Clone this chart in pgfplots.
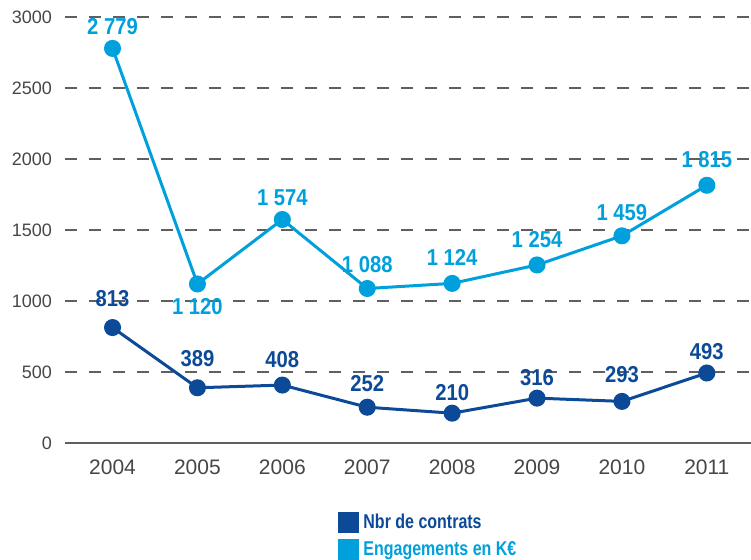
\documentclass[border=0pt]{standalone}
\usepackage{pgfplots}
\pgfplotsset{compat=1.18}
\usepackage{fontspec}
\setmainfont{Liberation Sans}
\newfontfamily\cond[FakeStretch=0.88]{Liberation Sans}
\newfontfamily\condl[FakeStretch=0.8]{Liberation Sans}
\definecolor{lblue}{RGB}{0,160,220}
\definecolor{dblue}{RGB}{12,74,152}
\definecolor{gridg}{RGB}{95,95,95}
\definecolor{tickg}{RGB}{70,70,70}
\begin{document}
\begin{tikzpicture}
\useasboundingbox (-32.5pt,-58pt) rectangle (343pt,221.5pt);
\begin{axis}[
  at={(0,0)}, anchor=south west,
  scale only axis, width=343pt, height=213pt,
  xmin=2003.44, xmax=2011.52, ymin=0, ymax=3000,
  axis x line=bottom, axis y line=left,
  x axis line style={gridg, line width=1pt, -},
  y axis line style={draw=none},
  major tick length=0pt,
  xtick={2004,2005,...,2011},
  ytick={0,500,...,3000},
  ymajorgrids,
  grid style={gridg, line width=0.6pt, dash pattern=on 6pt off 6pt},
  /pgf/number format/assume math mode=true,
  /pgf/number format/1000 sep={},
  x tick label style={font=\fontsize{10.5}{12}\selectfont, text=tickg, yshift=-5pt},
  y tick label style={font=\fontsize{9}{11}\selectfont, text=tickg, xshift=-3pt},
  clip=false,
  legend style={at={(0.398,-0.156)}, anchor=north west, draw=none, fill=none,
    inner sep=0pt, font=\condl\bfseries\fontsize{10}{11}\selectfont, row sep=1pt,
    cells={anchor=west}},
  legend image code/.code={\fill (0pt,-4.5pt) rectangle (9pt,4.5pt);},
]
\addplot[dblue, line width=1.5pt, mark=*, mark size=3.5pt,
  nodes near coords, point meta=explicit symbolic,
  every node near coord/.append style={font=\cond\bfseries\fontsize{11.5}{13}\selectfont, text=dblue, anchor=south, yshift=3.7pt},
  coordinate style/.condition={\coordindex==0}{yshift=2.5pt},
  coordinate style/.condition={\coordindex==1}{yshift=2.5pt},
  coordinate style/.condition={\coordindex==2}{yshift=1pt},
  coordinate style/.condition={\coordindex==4}{yshift=-1.5pt},
  coordinate style/.condition={\coordindex==5}{yshift=-1.5pt},
  coordinate style/.condition={\coordindex==6}{yshift=1.5pt},
  coordinate style/.condition={\coordindex==7}{yshift=-1pt}]
  coordinates {(2004,813)[813] (2005,389)[389] (2006,408)[408] (2007,252)[252]
               (2008,210)[210] (2009,316)[316] (2010,293)[293] (2011,493)[493]};
\addlegendentry{\textcolor{dblue}{Nbr de contrats}}
\addplot[lblue, line width=1.5pt, mark=*, mark size=3.5pt,
  nodes near coords, point meta=explicit symbolic,
  every node near coord/.append style={font=\cond\bfseries\fontsize{11.5}{13}\selectfont, text=lblue, anchor=south, yshift=3.7pt},
  coordinate style/.condition={\coordindex==0}{yshift=-1pt},
  coordinate style/.condition={\coordindex==1}{yshift=-23.3pt},
  coordinate style/.condition={\coordindex==2}{yshift=-1pt},
  coordinate style/.condition={\coordindex==4}{yshift=1pt},
  coordinate style/.condition={\coordindex==5}{yshift=1pt},
  coordinate style/.condition={\coordindex==7}{yshift=1pt}]
  coordinates {(2004,2779)[2 779] (2005,1120)[1 120] (2006,1574)[1 574] (2007,1088)[1 088]
               (2008,1124)[1 124] (2009,1254)[1 254] (2010,1459)[1 459] (2011,1815)[1 815]};
\addlegendentry{\textcolor{lblue}{Engagements en K€}}
\end{axis}
\end{tikzpicture}
\end{document}
